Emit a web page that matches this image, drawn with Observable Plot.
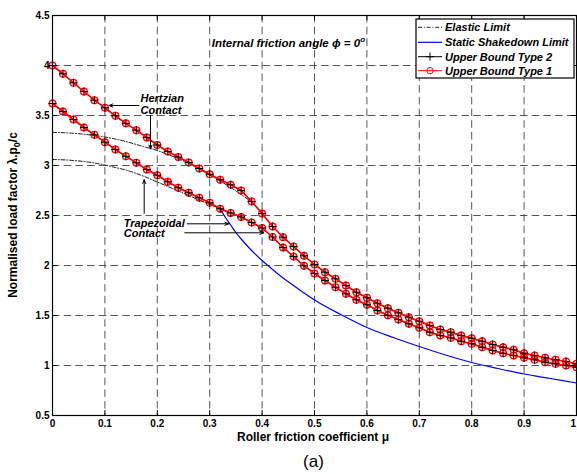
<!DOCTYPE html>
<html>
<head>
<meta charset="utf-8">
<script src="https://cdn.jsdelivr.net/npm/d3@7"></script>
<script src="https://cdn.jsdelivr.net/npm/@observablehq/plot@0.6"></script>
<style>
  body { margin: 0; background: #fff; font-family: "Liberation Sans", Arial, sans-serif; }
  #wrap { position: relative; width: 577px; height: 474px; }
  #caption { position: absolute; left: 0; top: 452px; width: 627px; text-align: center;
             font-size: 17px; line-height: 20px; color: #000; }
</style>
</head>
<body>
<div id="wrap">
  <div id="chart"></div>
  <div id="caption">(a)</div>
</div>
<script>
// Roller friction coefficient grid used by the upper-bound analyses
const mu = [0, 0.02, 0.04, 0.06, 0.08, 0.10, 0.12, 0.14, 0.16, 0.18,
            0.20, 0.22, 0.24, 0.26, 0.28, 0.30, 0.32, 0.34, 0.36, 0.38,
            0.40, 0.42, 0.44, 0.46, 0.48, 0.50, 0.52, 0.54, 0.56, 0.58,
            0.60, 0.62, 0.64, 0.66, 0.68, 0.70, 0.72, 0.74, 0.76, 0.78,
            0.80, 0.82, 0.84, 0.86, 0.88, 0.90, 0.92, 0.94, 0.96, 0.98, 1.00];

// Upper bound, Hertzian contact
const hertzUB = [4.00, 3.917, 3.827, 3.74, 3.653, 3.577, 3.497, 3.422, 3.353, 3.28,
                 3.205, 3.14, 3.085, 3.03, 2.97, 2.913, 2.857, 2.807, 2.75, 2.64,
                 2.52, 2.39, 2.283, 2.19, 2.097, 2.01, 1.933, 1.867, 1.80, 1.733,
                 1.677, 1.623, 1.573, 1.527, 1.483, 1.443, 1.40, 1.36, 1.333, 1.30,
                 1.273, 1.243, 1.21, 1.183, 1.157, 1.123, 1.10, 1.077, 1.057, 1.04, 1.017];

// Upper bound, trapezoidal contact
const trapUB = [3.62, 3.54, 3.46, 3.38, 3.307, 3.233, 3.16, 3.092, 3.027, 2.96,
                2.903, 2.837, 2.777, 2.727, 2.677, 2.627, 2.567, 2.525, 2.485, 2.43,
                2.375, 2.285, 2.18, 2.09, 1.997, 1.92, 1.85, 1.783, 1.717, 1.657,
                1.607, 1.55, 1.503, 1.46, 1.417, 1.377, 1.333, 1.30, 1.277, 1.243,
                1.217, 1.183, 1.15, 1.123, 1.10, 1.077, 1.057, 1.033, 1.017, 1.00, 0.983];

// Elastic limits
const muElasticH = [0, 0.02, 0.04, 0.06, 0.08, 0.10, 0.12, 0.14, 0.16, 0.18,
                    0.20, 0.22, 0.24, 0.26, 0.28, 0.30, 0.32, 0.34, 0.36, 0.38];
const hertzElastic = [3.33, 3.328, 3.322, 3.313, 3.30, 3.285, 3.265, 3.24, 3.21, 3.18,
                      3.15, 3.11, 3.07, 3.02, 2.965, 2.905, 2.845, 2.78, 2.71, 2.635];
const muElasticT = [0, 0.02, 0.04, 0.06, 0.08, 0.10, 0.12, 0.14, 0.16, 0.18,
                    0.20, 0.22, 0.24, 0.26, 0.28, 0.30, 0.32];
const trapElastic = [3.06, 3.057, 3.05, 3.04, 3.025, 3.005, 2.98, 2.955, 2.92, 2.88,
                     2.835, 2.79, 2.745, 2.70, 2.655, 2.61, 2.565];

// Static shakedown limit (trapezoidal contact, where it leaves the upper bound)
const muShake = [0.32, 0.33, 0.34, 0.35, 0.36, 0.38, 0.40, 0.42, 0.44, 0.46, 0.48,
                 0.50, 0.55, 0.60, 0.65, 0.70, 0.75, 0.80, 0.85, 0.90, 0.95, 1.00];
const shakedown = [2.567, 2.48, 2.405, 2.33, 2.265, 2.15, 2.05, 1.96, 1.875, 1.80, 1.725,
                   1.655, 1.51, 1.38, 1.28, 1.19, 1.105, 1.03, 0.97, 0.915, 0.87, 0.825];

// Axes
const xTicks = [0, 0.1, 0.2, 0.3, 0.4, 0.5, 0.6, 0.7, 0.8, 0.9, 1];
const xTickLabels = ["0", "0.1", "0.2", "0.3", "0.4", "0.5", "0.6", "0.7", "0.8", "0.9", "1"];
const yTicks = [0.5, 1, 1.5, 2, 2.5, 3, 3.5, 4, 4.5];
const yTickLabels = ["0.5", "1", "1.5", "2", "2.5", "3", "3.5", "4", "4.5"];
const xGrid = [0.1, 0.2, 0.3, 0.4, 0.5, 0.6, 0.7, 0.8, 0.9];
const yGrid = [1, 1.5, 2, 2.5, 3, 3.5, 4];

const legendLabels = ["Elastic Limit", "Static Shakedown Limit", "Upper Bound Type 2", "Upper Bound Type 1"];

// Annotations (data units)
const noteText = ["Hertzian", "Contact", "Trapezoidal", "Contact"];
const noteX = [0.168, 0.168, 0.136, 0.136];
const noteY = [3.675, 3.55, 2.425, 2.317];
const arrowX1 = [0.165, 0.187, 0.175, 0.257, 0.2525];
const arrowY1 = [3.60, 3.50, 2.523, 2.417, 2.327];
const arrowX2 = [0.108, 0.187, 0.175, 0.336, 0.403];
const arrowY2 = [3.60, 3.167, 2.857, 2.417, 2.327];
const titleParts = ["Internal friction angle ", "\u03d5", " = 0", "o"];
const titleX = 0.305, titleY = 4.18;

const series = (xs, ys) => xs.map((x, i) => ({x, y: ys[i]}));
const ubH = series(mu, hertzUB);
const ubT = series(mu, trapUB);
const elH = series(muElasticH, hertzElastic);
const elT = series(muElasticT, trapElastic);
const sd = series(muShake, shakedown);
const ubAll = ubH.concat(ubT);

const notes = noteText.map((t, i) => ({t, x: noteX[i], y: noteY[i]}));
const arrows = arrowX1.map((x1, i) => ({x1, y1: arrowY1[i], x2: arrowX2[i], y2: arrowY2[i]}));

// Thin stroked "+" marker
const plusSymbol = {
  draw(context, size) {
    const s = Math.sqrt(size / Math.PI);
    context.moveTo(-s, 0); context.lineTo(s, 0);
    context.moveTo(0, -s); context.lineTo(0, s);
  }
};

const dashDot = "4,1.8,1,1.8";
const gridStyle = {stroke: "#3a3a3a", strokeWidth: 1, strokeDasharray: "7.5,4.2", strokeOpacity: 0.85};

const chart = Plot.plot({
  width: 577,
  height: 447,
  marginLeft: 52,
  marginRight: 1,
  marginTop: 15,
  marginBottom: 32,
  style: {fontFamily: "'Liberation Sans', Arial, sans-serif", fontSize: "10px", color: "#000", background: "#fff"},
  x: {domain: [0, 1]},
  y: {domain: [0.5, 4.5]},
  marks: [
    Plot.ruleX(xGrid, gridStyle),
    Plot.ruleY(yGrid, gridStyle),
    // elastic limits
    Plot.line(elH, {x: "x", y: "y", stroke: "#000", strokeWidth: 0.9, strokeDasharray: dashDot, curve: "monotone-x"}),
    Plot.line(elT, {x: "x", y: "y", stroke: "#000", strokeWidth: 0.9, strokeDasharray: dashDot, curve: "monotone-x"}),
    // static shakedown
    Plot.line(sd, {x: "x", y: "y", stroke: "#0000ff", strokeWidth: 1.2, curve: "monotone-x"}),
    // upper bound type 2 (black, +) and type 1 (red, o)
    Plot.line(ubH, {x: "x", y: "y", stroke: "#000", strokeWidth: 1}),
    Plot.line(ubT, {x: "x", y: "y", stroke: "#000", strokeWidth: 1}),
    Plot.line(ubH, {x: "x", y: "y", stroke: "#ff0000", strokeWidth: 1.6}),
    Plot.line(ubT, {x: "x", y: "y", stroke: "#ff0000", strokeWidth: 1.6}),
    Plot.dot(ubAll, {x: "x", y: "y", r: 3.4, stroke: "#ff0000", strokeWidth: 1.2, fill: "#ff0000", fillOpacity: 0.22}),
    Plot.dot(ubAll, {x: "x", y: "y", r: 4, symbol: plusSymbol, stroke: "#000", strokeWidth: 1, fill: "none"}),
    // annotations
    Plot.text(notes, {x: "x", y: "y", text: "t", textAnchor: "start", fontSize: 11, fontWeight: "bold", fontStyle: "italic", fill: "#000"}),
    Plot.arrow(arrows, {x1: "x1", y1: "y1", x2: "x2", y2: "y2", stroke: "#000", strokeWidth: 1, headLength: 6, headAngle: 45}),
    // frame and inward ticks
    Plot.frame({stroke: "#000", strokeWidth: 1.2}),
    Plot.ruleX(xTicks, {y1: 0.5, y2: 0.55, stroke: "#000"}),
    Plot.ruleX(xTicks, {y1: 4.45, y2: 4.5, stroke: "#000"}),
    Plot.ruleY(yTicks, {x1: 0, x2: 0.0095, stroke: "#000"}),
    Plot.ruleY(yTicks, {x1: 0.9905, x2: 1, stroke: "#000"}),
    Plot.axisX(xTicks, {tickSize: 0, tickPadding: 4, label: null, fontWeight: "bold",
      tickFormat: (d, i) => xTickLabels[i]}),
    Plot.axisY(yTicks, {tickSize: 0, tickPadding: 3, label: null, fontWeight: "bold",
      tickFormat: (d, i) => yTickLabels[i]})
  ]
});

document.getElementById("chart").appendChild(chart);

const svg = d3.select(chart);
const sx = chart.scale("x"), sy = chart.scale("y");
const font = "'Liberation Sans', Arial, sans-serif";

// keep any tick label that would run past the right edge inside the drawing
svg.selectAll("text").each(function () {
  const box = this.getBoundingClientRect();
  const svgBox = chart.getBoundingClientRect();
  if (box.right > svgBox.right - 0.5) {
    d3.select(this).attr("transform", `translate(${svgBox.right - 0.5 - box.right},0)` + (this.getAttribute("transform") ? " " + this.getAttribute("transform") : ""));
  }
});

// Title inside the plot: Internal friction angle ϕ = 0°
const title = svg.append("text")
  .attr("x", sx.apply(titleX)).attr("y", sy.apply(titleY))
  .attr("text-anchor", "start")
  .attr("font-family", font).attr("font-size", 11.5).attr("font-weight", "bold")
  .attr("font-style", "italic").attr("fill", "#000");
title.append("tspan").text(titleParts[0]);
title.append("tspan").text(titleParts[1]);
title.append("tspan").text(titleParts[2]);
title.append("tspan").attr("font-size", 8).attr("dy", -5).text(titleParts[3]);

// Axis titles
svg.append("text")
  .attr("x", 313).attr("y", 441)
  .attr("text-anchor", "middle")
  .attr("font-family", font).attr("font-size", 12).attr("font-weight", "bold").attr("fill", "#000")
  .text("Roller friction coefficient \u03bc");

const yl = svg.append("text")
  .attr("transform", "translate(17,215) rotate(-90)")
  .attr("text-anchor", "middle")
  .attr("font-family", font).attr("font-size", 12).attr("font-weight", "bold").attr("fill", "#000");
yl.append("tspan").text("Normalised load factor \u03bb.p");
yl.append("tspan").attr("font-size", 9).attr("dy", 3).text("0");
yl.append("tspan").attr("dy", -3).text("/c");

// Legend box
const lg = svg.append("g").attr("font-family", font).attr("text-anchor", "start");
lg.append("rect").attr("x", 416).attr("y", 19).attr("width", 158).attr("height", 59)
  .attr("fill", "#fff").attr("stroke", "#000").attr("stroke-width", 1.2);
const rowY = [27.3, 42.3, 56.7, 70.7];
legendLabels.forEach((label, i) => {
  const y = rowY[i];
  const g = lg.append("g");
  if (i === 0) {
    g.append("line").attr("x1", 418).attr("x2", 442).attr("y1", y).attr("y2", y)
      .attr("stroke", "#000").attr("stroke-width", 0.9).attr("stroke-dasharray", dashDot);
  } else if (i === 1) {
    g.append("line").attr("x1", 418).attr("x2", 442).attr("y1", y).attr("y2", y)
      .attr("stroke", "#0000ff").attr("stroke-width", 1.2);
  } else if (i === 2) {
    g.append("line").attr("x1", 418).attr("x2", 442).attr("y1", y).attr("y2", y)
      .attr("stroke", "#000").attr("stroke-width", 1);
    g.append("path").attr("d", `M426,${y}H434M430,${y - 4}V${y + 4}`).attr("stroke", "#000").attr("fill", "none");
  } else {
    g.append("line").attr("x1", 418).attr("x2", 442).attr("y1", y).attr("y2", y)
      .attr("stroke", "#ff0000").attr("stroke-width", 1);
    g.append("circle").attr("cx", 430).attr("cy", y).attr("r", 3.2)
      .attr("stroke", "#ff0000").attr("stroke-width", 1).attr("fill", "none");
  }
  g.append("text").attr("x", 445).attr("y", y + 4)
    .attr("text-anchor", "start")
    .attr("font-size", 11).attr("font-weight", "bold").attr("font-style", "italic").attr("fill", "#000")
    .text(label);
});
</script>
</body>
</html>
